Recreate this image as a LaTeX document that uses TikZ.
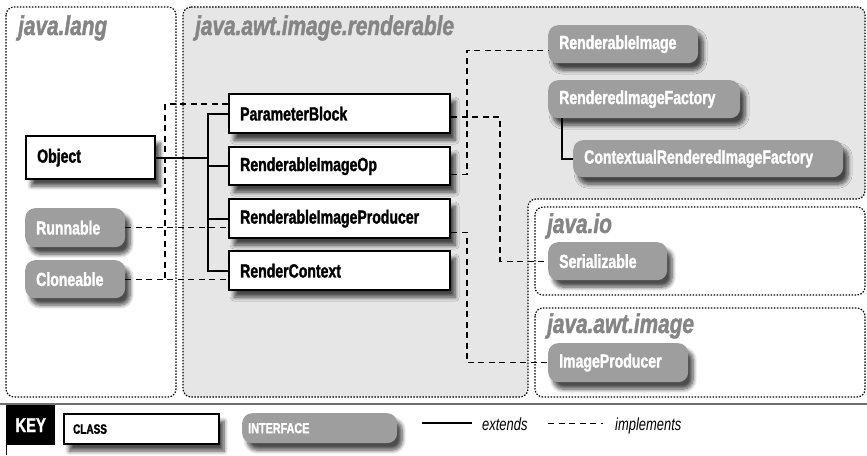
\documentclass[tikz,border=0pt]{standalone}
\usepackage{fontspec}
\setmainfont{Liberation Sans}[FakeStretch=0.74, BoldFeatures={FakeBold=1.5}]
\newfontfamily\pkgfont{Liberation Sans}[FakeStretch=0.77, BoldItalicFeatures={FakeBold=1.5}]
\usetikzlibrary{shadows.blur}
\definecolor{pkggray}{HTML}{858585}
\definecolor{ifgray}{HTML}{9E9E9E}
\definecolor{bggray}{HTML}{E6E6E6}
\definecolor{rulegray}{HTML}{707070}
\tikzset{
 pkgbox/.style={draw=black, line width=1.2pt, dash pattern=on 1.5pt off 1.5pt, rounded corners=8pt},
 pkglabel/.style={font=\pkgfont\bfseries\itshape\fontsize{27}{27}\selectfont, text=pkggray, inner sep=0pt, anchor=base west},
 shad/.style={blur shadow={shadow xshift=5pt, shadow yshift=-7pt, shadow blur radius=4pt, shadow blur steps=8, shadow opacity=70}},
 cls/.style={shad, draw=black, line width=2.4pt, fill=white, anchor=north west, inner xsep=11pt, inner ysep=0pt, align=left, font=\bfseries\fontsize{19}{19}\selectfont},
 iface/.style={shad, fill=ifgray, rounded corners=10pt, text=white, anchor=north west, inner xsep=11pt, inner ysep=0pt, align=left, font=\bfseries\fontsize{19}{19}\selectfont},
 ext/.style={draw=black, line width=2.2pt},
 impl/.style={draw=black, line width=1.2pt, dash pattern=on 6pt off 4.5pt},
}
\begin{document}
\begin{tikzpicture}[x=1pt,y=-1pt]
\useasboundingbox (0,0) rectangle (867,455);
% packages
\draw[pkgbox] (6,7) rectangle (176,397);
\draw[pkgbox, fill=bggray] (183,7) -- (865,7) -- (865,199) -- (528,199) -- (528,397) -- (183,397) -- cycle;
\draw[pkgbox] (535,207) rectangle (865,295);
\draw[pkgbox] (535,308) rectangle (865,397);
\node[pkglabel] (lLang) at (18,35) {java.lang};
\node[pkglabel] (lRend) at (195,35) {java.awt.image.renderable};
\node[pkglabel] (lIo) at (547,233) {java.io};
\node[pkglabel] (lImg) at (547,333) {java.awt.image};
% classes
\node[cls, minimum width=129pt, text width=107pt, minimum height=43pt] (obj) at (25,135) {Object};
\node[cls, minimum width=221pt, text width=199pt, minimum height=39pt] (pb) at (228,93) {ParameterBlock};
\node[cls, minimum width=221pt, text width=199pt, minimum height=38pt] (rio) at (228,146) {RenderableImageOp};
\node[cls, minimum width=221pt, text width=199pt, minimum height=39pt] (rip) at (228,198) {RenderableImageProducer};
\node[cls, minimum width=221pt, text width=199pt, minimum height=39pt] (rc) at (228,250) {RenderContext};
% interfaces
\node[iface, minimum width=150pt, text width=128pt, minimum height=38pt] (ri) at (548,25) {RenderableImage};
\node[iface, minimum width=192pt, text width=170pt, minimum height=38pt] (rif) at (548,80) {RenderedImageFactory};
\node[iface, minimum width=270pt, text width=248pt, minimum height=37pt] (crif) at (573,140) {ContextualRenderedImageFactory};
\node[iface, minimum width=100pt, text width=78pt, minimum height=39pt] (run) at (25,208) {Runnable};
\node[iface, minimum width=100pt, text width=78pt, minimum height=38pt] (clo) at (25,260) {Cloneable};
\node[iface, minimum width=119pt, text width=97pt, minimum height=38pt] (ser) at (548,242) {Serializable};
\node[iface, minimum width=140pt, text width=118pt, minimum height=39pt] (ip) at (548,343) {ImageProducer};
% extends
\coordinate (j) at (208,0);
\draw[ext] (obj.east) -- (obj.east -| j);
\draw[ext] (pb.west) -- (pb.west -| j) -- (rc.west -| j) -- (rc.west);
\draw[ext] (rio.west) -- (rio.west -| j);
\draw[ext] (rip.west) -- (rip.west -| j);
\draw[ext] ([xshift=14pt]rif.south west) |- (crif.west);
% implements
\coordinate (v1) at (165,0);
\coordinate (v2) at (500,0);
\coordinate (v3) at (467,0);
\coordinate (riin) at ([yshift=-6pt]ri.west);
\draw[impl] (run.east) -- (run.east -| rip.west);
\draw[impl] (clo.east) -- (clo.east -| rc.west);
\draw[impl] ([yshift=-11pt]pb.north west) -| (v1 |- clo.east);
\draw[impl] ([yshift=-24pt]pb.north east) -| (v2 |- ser.west) -- (ser.west);
\draw[impl] ([yshift=-8pt]rio.east) -| (v3 |- riin) -- (riin);
\draw[impl] ([yshift=-13.5pt]rip.east) -| (v3 |- ip.west) -- (ip.west);
% key
\draw[rulegray, line width=2pt] (0,404) -- (867,404);
\node[fill=black, text=white, anchor=north west, minimum width=49pt, minimum height=40pt, inner sep=0pt, font=\bfseries\fontsize{20}{20}\selectfont] (key) at (6,405) {KEY};
\draw[line width=0.8pt] (key.south west) -- ++(0,10);
\node[cls, line width=2.2pt, minimum width=155pt, text width=137pt, inner xsep=9pt, minimum height=30pt, font=\bfseries\fontsize{13.5}{13.5}\selectfont] (kcls) at (63,413) {CLASS};
\node[iface, minimum width=155pt, text width=143pt, inner xsep=6pt, minimum height=30pt, font=\bfseries\fontsize{14.6}{14.6}\selectfont] (kif) at (242,413) {INTERFACE};
\coordinate (e1) at (422,423);
\coordinate (e2) at (472,423);
\draw[ext, line width=1.8pt] (e1) -- (e2);
\node[anchor=base west, inner sep=0pt, font=\itshape\fontsize{17.5}{17.5}\selectfont] (lext) at (482,430) {extends};
\coordinate (i1) at (548,423);
\coordinate (i2) at (603,423);
\draw[impl, line width=1pt, dash pattern=on 6pt off 4.5pt] (i1) -- (i2);
\node[anchor=base west, inner sep=0pt, font=\itshape\fontsize{17.5}{17.5}\selectfont] (limpl) at (615,430) {implements};
\end{tikzpicture}
\end{document}
